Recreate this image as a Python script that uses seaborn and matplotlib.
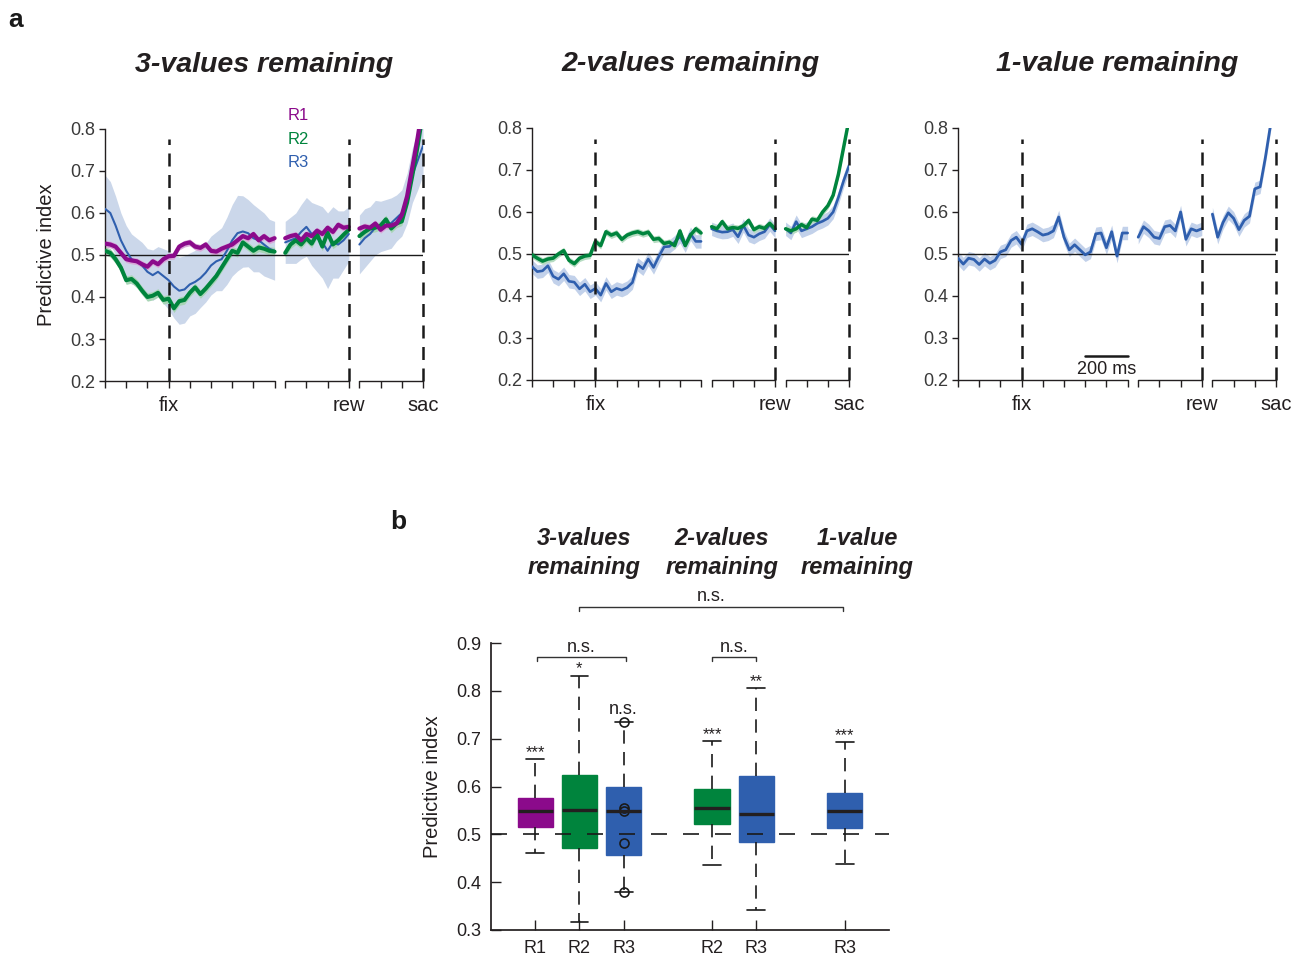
import numpy as np
import matplotlib
matplotlib.use("Agg")
import matplotlib.pyplot as plt
import seaborn as sns

sns.set_theme(style="ticks")
plt.rcParams['font.family'] = ['Liberation Sans', 'DejaVu Sans']
plt.rcParams['axes.edgecolor'] = '#231f20'
plt.rcParams['xtick.color'] = '#231f20'
plt.rcParams['ytick.color'] = '#231f20'

PURPLE = '#8b0a8b'
GREEN = '#00843d'
BLUE = '#2f5fae'
TXT = '#231f20'

# time grids in ms, relative to fixation / reward / saccade
T_FIX = np.arange(-300, 501, 25)
T_REW = np.arange(-300, 1, 25)
T_SAC = np.arange(-300, 1, 25)

# ---- panel a: 3-values remaining ----
V3_R1_FIX = [0.527, 0.525, 0.520, 0.505, 0.490, 0.487, 0.485, 0.478, 0.472, 0.485,
             0.478, 0.490, 0.497, 0.498, 0.520, 0.527, 0.530, 0.520, 0.517, 0.525,
             0.510, 0.508, 0.515, 0.520, 0.525, 0.535, 0.545, 0.540, 0.550, 0.535,
             0.545, 0.535, 0.540]
V3_R1_REW = [0.540, 0.545, 0.548, 0.535, 0.550, 0.545, 0.558, 0.550, 0.565, 0.555, 0.572, 0.565, 0.567]
V3_R1_SAC = [0.563, 0.568, 0.565, 0.575, 0.560, 0.570, 0.570, 0.575, 0.595, 0.640, 0.710, 0.780, 0.860]
V3_R1_SE = 0.008

V3_R2_FIX = [0.510, 0.505, 0.490, 0.470, 0.440, 0.443, 0.432, 0.415, 0.400, 0.403,
             0.410, 0.393, 0.396, 0.373, 0.390, 0.393, 0.410, 0.423, 0.407, 0.420,
             0.435, 0.450, 0.470, 0.490, 0.510, 0.505, 0.530, 0.520, 0.510, 0.518,
             0.515, 0.510, 0.508]
V3_R2_REW = [0.505, 0.525, 0.535, 0.525, 0.540, 0.527, 0.550, 0.520, 0.553, 0.525, 0.535, 0.548, 0.560]
V3_R2_SAC = [0.545, 0.555, 0.563, 0.565, 0.570, 0.585, 0.563, 0.575, 0.580, 0.625, 0.690, 0.760, 0.840]
V3_R2_SE = 0.010

V3_R3_FIX = [0.610, 0.600, 0.570, 0.535, 0.510, 0.490, 0.485, 0.475, 0.460, 0.452,
             0.460, 0.450, 0.440, 0.425, 0.415, 0.418, 0.430, 0.436, 0.445, 0.458,
             0.475, 0.485, 0.490, 0.510, 0.535, 0.552, 0.556, 0.552, 0.540, 0.535,
             0.525, 0.515, 0.510]
V3_R3_REW = [0.530, 0.535, 0.540, 0.555, 0.567, 0.550, 0.540, 0.530, 0.510, 0.530, 0.525, 0.535, 0.550]
V3_R3_SAC = [0.525, 0.540, 0.550, 0.565, 0.568, 0.572, 0.576, 0.588, 0.600, 0.635, 0.690, 0.725, 0.760]
V3_R3_SE_FIX = [0.080, 0.075, 0.070, 0.065, 0.060, 0.060, 0.055, 0.055, 0.055, 0.060,
                0.060, 0.065, 0.070, 0.075, 0.080, 0.080, 0.075, 0.075, 0.070, 0.070,
                0.070, 0.070, 0.075, 0.080, 0.085, 0.090, 0.085, 0.080, 0.080, 0.075,
                0.075, 0.070, 0.070]
V3_R3_SE_REW = [0.050, 0.055, 0.060, 0.065, 0.070, 0.075, 0.080, 0.085, 0.090, 0.085, 0.080, 0.070, 0.065]
V3_R3_SE_SAC = [0.070, 0.070, 0.065, 0.065, 0.060, 0.060, 0.060, 0.055, 0.055, 0.060, 0.065, 0.070, 0.070]

# ---- panel a: 2-values remaining ----
V2_R2_FIX = [0.498, 0.490, 0.483, 0.488, 0.490, 0.500, 0.508, 0.485, 0.477, 0.490,
             0.495, 0.497, 0.530, 0.520, 0.553, 0.545, 0.550, 0.535, 0.545, 0.550,
             0.553, 0.548, 0.552, 0.535, 0.537, 0.525, 0.528, 0.520, 0.555, 0.520,
             0.545, 0.560, 0.550]
V2_R2_REW = [0.565, 0.560, 0.577, 0.560, 0.563, 0.561, 0.567, 0.580, 0.558, 0.565, 0.561, 0.573, 0.560]
V2_R2_SAC = [0.560, 0.555, 0.560, 0.570, 0.563, 0.583, 0.580, 0.600, 0.615, 0.640, 0.690, 0.755, 0.820]
V2_R2_SE = 0.008

V2_R3_FIX = [0.470, 0.458, 0.460, 0.472, 0.447, 0.440, 0.453, 0.435, 0.433, 0.417,
             0.428, 0.410, 0.418, 0.402, 0.430, 0.410, 0.418, 0.414, 0.420, 0.432,
             0.475, 0.465, 0.488, 0.468, 0.494, 0.517, 0.518, 0.528, 0.542, 0.520,
             0.548, 0.530, 0.530]
V2_R3_REW = [0.560, 0.555, 0.552, 0.553, 0.558, 0.541, 0.568, 0.545, 0.540, 0.548, 0.553, 0.570, 0.555]
V2_R3_SAC = [0.560, 0.550, 0.577, 0.555, 0.560, 0.565, 0.573, 0.578, 0.585, 0.600, 0.635, 0.675, 0.710]
V2_R3_SE = 0.016

# ---- panel a: 1-value remaining ----
V1_R3_FIX = [0.490, 0.476, 0.490, 0.487, 0.475, 0.488, 0.478, 0.485, 0.505, 0.510,
             0.532, 0.540, 0.523, 0.555, 0.560, 0.553, 0.545, 0.548, 0.555, 0.588,
             0.540, 0.510, 0.522, 0.510, 0.498, 0.505, 0.548, 0.550, 0.515, 0.553,
             0.495, 0.550, 0.550]
V1_R3_REW = [0.540, 0.565, 0.555, 0.540, 0.537, 0.565, 0.568, 0.555, 0.600, 0.535, 0.560, 0.555, 0.560]
V1_R3_SAC = [0.595, 0.540, 0.575, 0.598, 0.585, 0.558, 0.580, 0.590, 0.655, 0.660, 0.730, 0.810, 0.880]
V1_R3_SE = 0.016

# ---- panel b: box statistics ----
B_POS = [1, 2, 3, 5, 6, 8]
B_LABELS = ['R1', 'R2', 'R3', 'R2', 'R3', 'R3']
B_MED = [0.549, 0.551, 0.548, 0.555, 0.543, 0.548]
B_Q1 = [0.516, 0.471, 0.456, 0.522, 0.483, 0.514]
B_Q3 = [0.576, 0.624, 0.599, 0.594, 0.621, 0.586]
B_WLO = [0.460, 0.317, 0.379, 0.435, 0.342, 0.439]
B_WHI = [0.657, 0.832, 0.734, 0.696, 0.806, 0.692]
B_FLIERS = [[], [], [0.734, 0.555, 0.548, 0.481, 0.379], [], [], []]
B_COLORS = [PURPLE, GREEN, BLUE, GREEN, BLUE, BLUE]
B_MARKS = ['***', '*', 'n.s.', '***', '**', '***']

# composite x: each segment shifted so the three epochs sit side by side
SEGS = [(T_FIX, 300), (T_REW, 1150), (T_SAC, 1500)]
EVENTS = [('fix', 300), ('rew', 1150), ('sac', 1500)]

W, H = 1299, 957
fig = plt.figure(figsize=(W / 100, H / 100), dpi=100)


def px_axes(left, top, right, bottom):
    return fig.add_axes([left / W, 1 - bottom / H, (right - left) / W, (bottom - top) / H])


def draw_series(ax, parts, ses, color, band, lw):
    for (t, off), y, se in zip(SEGS, parts, ses):
        x = t + off
        y = np.asarray(y)
        se = np.asarray(se)
        ax.fill_between(x, y - se, y + se, color=band, lw=0, zorder=1)
        sns.lineplot(x=x, y=y, color=color, lw=lw, ax=ax, zorder=3)


def setup_time_axis(ax, title, ylabel=None):
    ax.set_xlim(0, 1500)
    ax.set_ylim(0.2, 0.8)
    for s in ['top', 'right', 'bottom']:
        ax.spines[s].set_visible(False)
    ax.spines['left'].set_linewidth(1)
    ticks = []
    for t, off in SEGS:
        ax.plot([t[0] + off, t[-1] + off], [0.2, 0.2], color=TXT, lw=1, clip_on=False, zorder=5)
        ticks += list(np.arange(t[0], t[-1] + 1, 100) + off)
    names = {off: name for name, off in EVENTS}
    ax.set_xticks(ticks)
    ax.set_xticklabels([names.get(v, '') for v in ticks])
    ax.tick_params(axis='x', direction='out', length=5, width=1, pad=6, labelsize=14.5,
                   labelcolor=TXT)
    yt = np.round(np.arange(0.2, 0.81, 0.1), 1)
    ax.set_yticks(yt)
    ax.set_yticklabels([f'{v:.1f}' for v in yt])
    ax.tick_params(axis='y', direction='out', length=4, width=1, pad=3, labelsize=13,
                   labelcolor='#3a3a3a')
    ax.axhline(0.5, color='k', lw=1, zorder=2)
    ax.vlines([off for _, off in EVENTS], 0.2, 0.775, colors='k', lw=1.8,
              linestyles=(0, (5.2, 3.4)), zorder=6, clip_on=False)
    ax.set_title(title, fontsize=20.5, fontweight='bold', fontstyle='italic', color=TXT, pad=41)
    if ylabel:
        ax.set_ylabel(ylabel, fontsize=14.5, color=TXT, labelpad=10)
    ax.set_xlabel('')


# panel a, left
ax1 = px_axes(105, 129, 423, 381)
draw_series(ax1, [V3_R3_FIX, V3_R3_REW, V3_R3_SAC], [V3_R3_SE_FIX, V3_R3_SE_REW, V3_R3_SE_SAC],
            BLUE, '#cbd7ea', 1.5)
draw_series(ax1, [V3_R2_FIX, V3_R2_REW, V3_R2_SAC], [V3_R2_SE] * 3, GREEN, '#a8d5b6', 2.9)
draw_series(ax1, [V3_R1_FIX, V3_R1_REW, V3_R1_SAC], [V3_R1_SE] * 3, PURPLE, '#d8a8d8', 3.0)
setup_time_axis(ax1, '3-values remaining', 'Predictive index')
for i, (name, col) in enumerate([('R1', PURPLE), ('R2', GREEN), ('R3', BLUE)]):
    ax1.text(863, 0.831 - 0.055 * i, name, color=col, fontsize=12, ha='left', va='center',
             clip_on=False)

# panel a, middle
ax2 = px_axes(532, 128, 849, 380)
draw_series(ax2, [V2_R3_FIX, V2_R3_REW, V2_R3_SAC], [V2_R3_SE] * 3, BLUE, '#c2d1ea', 1.9)
draw_series(ax2, [V2_R2_FIX, V2_R2_REW, V2_R2_SAC], [V2_R2_SE] * 3, GREEN, '#b5dcc1', 2.5)
setup_time_axis(ax2, '2-values remaining')

# panel a, right
ax3 = px_axes(958, 128, 1276, 380)
draw_series(ax3, [V1_R3_FIX, V1_R3_REW, V1_R3_SAC], [V1_R3_SE] * 3, BLUE, '#c2d1ea', 2.0)
setup_time_axis(ax3, '1-value remaining')
ax3.plot([600, 800], [0.257, 0.257], color='k', lw=1.8, zorder=5)
ax3.text(700, 0.226, '200 ms', fontsize=13, ha='center', va='center', color=TXT)

# panel b
axb = px_axes(491, 643, 889, 930)
stats = []
for i in range(len(B_POS)):
    stats.append(dict(med=B_MED[i], q1=B_Q1[i], q3=B_Q3[i], whislo=B_WLO[i],
                      whishi=B_WHI[i], fliers=B_FLIERS[i]))
bp = axb.bxp(stats, positions=B_POS, widths=0.8, capwidths=0.4, patch_artist=True,
             showfliers=True,
             whiskerprops=dict(color='k', lw=1.2, linestyle=(0, (8, 5))),
             capprops=dict(color='k', lw=1.2),
             medianprops=dict(color=TXT, lw=2.4),
             flierprops=dict(marker='o', mfc='none', mec='k', ms=6.5, mew=1.2))
for patch, col in zip(bp['boxes'], B_COLORS):
    patch.set_facecolor(col)
    patch.set_edgecolor(col)
axb.axhline(0.5, color='k', lw=1.2, ls=(0, (9.6, 9.6)), zorder=4)
axb.set_xlim(0, 9)
axb.set_ylim(0.3, 0.9)
sns.despine(ax=axb)
axb.set_xticks(B_POS)
axb.set_xticklabels(B_LABELS)
yt = np.round(np.arange(0.3, 0.91, 0.1), 1)
axb.set_yticks(yt)
axb.set_yticklabels([f'{v:.1f}' for v in yt])
axb.tick_params(direction='in', length=7, width=1, pad=7, labelsize=13, labelcolor=TXT)
axb.set_ylabel('Predictive index', fontsize=14.5, color=TXT, labelpad=10)

for pos, whi, mark in zip(B_POS, B_WHI, B_MARKS):
    off = 0.018 if mark == 'n.s.' else 0.004
    axb.text(pos, whi + off, mark, ha='center', va='baseline',
             fontsize=13 if mark == 'n.s.' else 12, color=TXT)


def bracket(ax, x0, x1, y, drop):
    ax.plot([x0, x0, x1, x1], [y - drop, y, y, y - drop], color='#333333', lw=1, clip_on=False)
    ax.text((x0 + x1) / 2, y + 0.011, 'n.s.', ha='center', va='baseline', fontsize=13,
            color=TXT, clip_on=False)


bracket(axb, 1.05, 3.05, 0.871, 0.008)
bracket(axb, 5.0, 6.0, 0.871, 0.008)
bracket(axb, 2.0, 7.95, 0.976, 0.01)

for label, xp in [('3-values\nremaining', 584), ('2-values\nremaining', 722), ('1-value\nremaining', 857)]:
    fig.text(xp / W, 1 - 553 / H, label, ha='center', va='center', fontsize=17,
             fontweight='bold', fontstyle='italic', color=TXT, linespacing=1.35)

fig.text(16 / W, 1 - 20 / H, 'a', fontsize=19, fontweight='bold', ha='center', va='center', color='k')
fig.text(398 / W, 1 - 522 / H, 'b', fontsize=19, fontweight='bold', ha='center', va='center', color='k')

fig.savefig('out.png', dpi=100)
